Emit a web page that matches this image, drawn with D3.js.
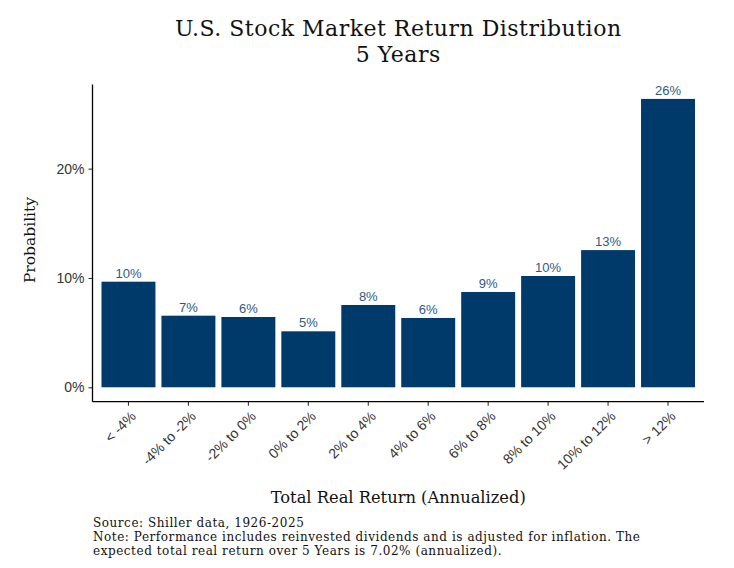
<!DOCTYPE html>
<html>
<head>
<meta charset="utf-8">
<script src="https://cdn.jsdelivr.net/npm/d3@7"></script>
<style>
  body { margin: 0; background: #fff; }
  svg { display: block; }
</style>
</head>
<body>
<div id="container"></div>
<script>
// bucket labels (total real return, annualized) and probabilities (%)
const buckets = ["< -4%", "-4% to -2%", "-2% to 0%", "0% to 2%", "2% to 4%",
                 "4% to 6%", "6% to 8%", "8% to 10%", "10% to 12%", "> 12%"];
const probs = [9.66, 6.55, 6.43, 5.12, 7.53, 6.34, 8.72, 10.18, 12.55, 26.38];
const yTicks = [0, 10, 20];
const titleLines = ["U.S. Stock Market Return Distribution", "5 Years"];
const captionLines = [
    "Source: Shiller data, 1926-2025",
    "Note: Performance includes reinvested dividends and is adjusted for inflation. The",
    "expected total real return over 5 Years is 7.02% (annualized)."
];

const main = () => {
    const W = 734, H = 568;
    const pLeft = 92.5, pRight = 704, pTop = 84.5, pBottom = 401.7;
    const serif = "'DejaVu Serif', 'Liberation Serif', serif";
    const sans = "'Liberation Sans', Arial, sans-serif";

    const svg = d3.select("#container")
        .append("svg")
        .attr("width", W)
        .attr("height", H);

    svg.append("rect").attr("width", W).attr("height", H).attr("fill", "#fff");

    const xScale = d3.scaleBand()
        .domain(buckets)
        .range([pLeft, pRight])
        .paddingInner(0.1)
        .paddingOuter(0.15);

    // ggplot style 5% expansion on both ends
    const yMax = d3.max(probs);
    const yPad = yMax * 0.05;
    const yScale = d3.scaleLinear().domain([-yPad, yMax + yPad]).range([pBottom, pTop]);

    // bars
    svg.selectAll(".bar").data(probs)
        .enter()
        .append("rect")
        .attr("class", "bar")
        .attr("x", (d, i) => xScale(buckets[i]))
        .attr("width", xScale.bandwidth())
        .attr("y", (d) => yScale(d))
        .attr("height", (d) => yScale(0) - yScale(d))
        .attr("fill", "#003a6b");

    // value labels
    svg.selectAll(".lbl").data(probs)
        .enter()
        .append("text")
        .attr("class", "lbl")
        .attr("x", (d, i) => xScale(buckets[i]) + xScale.bandwidth() / 2)
        .attr("y", (d) => yScale(d) - 4)
        .attr("text-anchor", "middle")
        .attr("font-family", sans)
        .attr("font-size", 13)
        .attr("fill", "#2f5a85")
        .text((d) => Math.round(d) + "%");

    // y axis
    const yAxis = d3.axisLeft(yScale)
        .tickValues(yTicks)
        .tickSize(4)
        .tickPadding(4)
        .tickFormat((d) => d + "%");
    const yAxisGroup = svg.append("g")
        .attr("class", "yaxisgroup")
        .attr("transform", "translate(" + pLeft + ",0)")
        .call(yAxis);
    yAxisGroup.select(".domain").remove();
    yAxisGroup.append("line")
        .attr("x1", 0).attr("x2", 0)
        .attr("y1", pTop).attr("y2", pBottom)
        .attr("stroke", "#000").attr("stroke-width", 1.3);

    // x axis
    const xAxis = d3.axisBottom(xScale).tickSize(4).tickFormat("");
    const xAxisGroup = svg.append("g")
        .attr("class", "xaxisgroup")
        .attr("transform", "translate(0," + pBottom + ")")
        .call(xAxis);
    xAxisGroup.select(".domain").remove();
    xAxisGroup.append("line")
        .attr("x1", pLeft).attr("x2", pRight)
        .attr("y1", 0).attr("y2", 0)
        .attr("stroke", "#000").attr("stroke-width", 1.3);

    svg.selectAll(".tick line").attr("stroke", "#333").attr("stroke-width", 1.1);
    yAxisGroup.selectAll(".tick text")
        .attr("font-family", sans)
        .attr("font-size", 14)
        .attr("fill", "#333");

    // rotated bucket labels
    svg.selectAll(".xlbl").data(buckets)
        .enter()
        .append("text")
        .attr("class", "xlbl")
        .attr("transform", (d) => "translate(" + (xScale(d) + xScale.bandwidth() / 2 + 1) + "," + (pBottom + 8) + ") rotate(-45)")
        .attr("text-anchor", "end")
        .attr("dy", "0.75em")
        .attr("font-family", sans)
        .attr("font-size", 14)
        .attr("fill", "#333")
        .text((d) => d);

    // titles
    const cx = (pLeft + pRight) / 2;
    svg.selectAll(".title").data(titleLines)
        .enter()
        .append("text")
        .attr("class", "title")
        .attr("x", cx)
        .attr("y", (d, i) => 36 + i * 26)
        .attr("text-anchor", "middle")
        .attr("font-family", serif)
        .attr("font-size", 22)
        .attr("letter-spacing", 0.5)
        .attr("fill", "#111")
        .text((d) => d);

    svg.append("text")
        .attr("x", cx)
        .attr("y", 503)
        .attr("text-anchor", "middle")
        .attr("font-family", serif)
        .attr("font-size", 16.3)
        .attr("fill", "#111")
        .text("Total Real Return (Annualized)");

    svg.append("text")
        .attr("transform", "translate(35,240) rotate(-90)")
        .attr("text-anchor", "middle")
        .attr("font-family", serif)
        .attr("font-size", 15.5)
        .attr("fill", "#111")
        .text("Probability");

    svg.selectAll(".caption").data(captionLines)
        .enter()
        .append("text")
        .attr("class", "caption")
        .attr("x", 93)
        .attr("y", (d, i) => 527 + i * 14)
        .attr("font-family", serif)
        .attr("font-size", 12)
        .attr("letter-spacing", 0.55)
        .attr("fill", "#111")
        .text((d) => d);
};

main();
</script>
</body>
</html>
